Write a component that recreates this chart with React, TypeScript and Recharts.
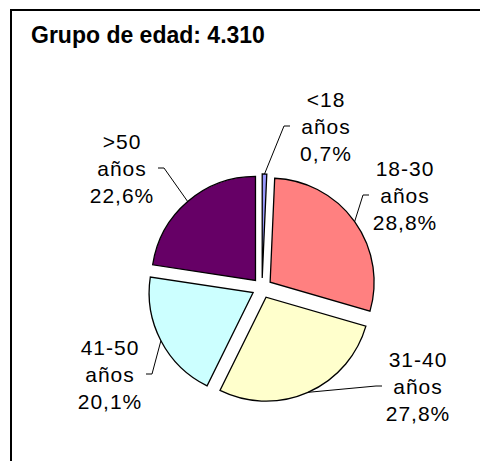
import React from 'react';
import { PieChart, Pie, Cell, Sector } from 'recharts';

// Age groups and their share of the 4.310 total
const groups = ['<18 años', '18-30 años', '31-40 años', '41-50 años', '>50 años'];
const shares = [0.7, 28.8, 27.8, 20.1, 22.6];
const colors = ['#9999FF', '#FF8080', '#FFFFCC', '#CCFFFF', '#660066'];

// where Excel had each label dragged to, relative to pie centre
const labelOffsets = [
  [64, -162],
  [143, -93],
  [156, 98],
  [-152, 86],
  [-140, -120],
];

const data = groups.map((name, i) => ({ name, value: shares[i] }));

const EXPLODE = 10;
const RAD = Math.PI / 180;

const ExplodedSector = (props: any) => {
  const { cx, cy, midAngle } = props;
  const dx = EXPLODE * Math.cos(-midAngle * RAD);
  const dy = EXPLODE * Math.sin(-midAngle * RAD);
  return <Sector {...props} cx={cx + dx} cy={cy + dy} stroke="#000" strokeWidth={1.3} />;
};

const renderLabel = (props: any) => {
  const { cx, cy, midAngle, outerRadius, index } = props;
  const ex = cx + EXPLODE * Math.cos(-midAngle * RAD);
  const ey = cy + EXPLODE * Math.sin(-midAngle * RAD);
  const sx = ex + outerRadius * Math.cos(-midAngle * RAD);
  const sy = ey + outerRadius * Math.sin(-midAngle * RAD);
  const [ox, oy] = labelOffsets[index];
  const lx = cx + ox;
  const ly = cy + oy;
  const side = ox > 0 ? -1 : 1;
  const elbowX = lx + side * 42;
  const stubX = lx + side * 36;
  const [range, unit] = groups[index].split(' ');
  const pct = shares[index].toFixed(1).replace('.', ',') + '%';
  const textStyle = { fontFamily: '"Liberation Sans", Arial, sans-serif', fontSize: 21, letterSpacing: 1 };
  return (
    <g>
      <polyline
        points={`${sx},${sy} ${elbowX},${ly} ${stubX},${ly}`}
        fill="none"
        stroke="#000"
        strokeWidth={1}
      />
      {[range, unit, pct].map((t, k) => (
        <text
          key={k}
          x={lx}
          y={ly + (k - 1) * 27}
          textAnchor="middle"
          dominantBaseline="central"
          fill="#000"
          style={textStyle}
        >
          {t}
        </text>
      ))}
    </g>
  );
};

export default function App() {
  return (
    <div style={{ position: 'fixed', left: 0, top: 0, width: 480, height: 461, background: '#fff', overflow: 'hidden' }}>
      <div
        style={{
          position: 'absolute',
          left: 10,
          top: 9,
          width: 480,
          height: 470,
          borderTop: '2px solid #000',
          borderLeft: '2px solid #000',
        }}
      />
      <div
        style={{
          position: 'absolute',
          left: 31,
          top: 22,
          fontFamily: '"Liberation Sans", Arial, sans-serif',
          fontWeight: 'bold',
          fontSize: 23,
          lineHeight: '26px',
          color: '#000',
        }}
      >
        Grupo de edad: 4.310
      </div>
      <div style={{ position: 'absolute', left: 0, top: 0 }}>
        <PieChart width={480} height={461}>
          <Pie
            data={data}
            dataKey="value"
            nameKey="name"
            cx={257}
            cy={283}
            outerRadius={104}
            startAngle={90}
            endAngle={-270}
            shape={ExplodedSector}
            label={renderLabel}
            labelLine={false}
            isAnimationActive={false}
          >
            {data.map((entry, index) => (
              <Cell key={`cell-${index}`} fill={colors[index]} />
            ))}
          </Pie>
        </PieChart>
      </div>
    </div>
  );
}
